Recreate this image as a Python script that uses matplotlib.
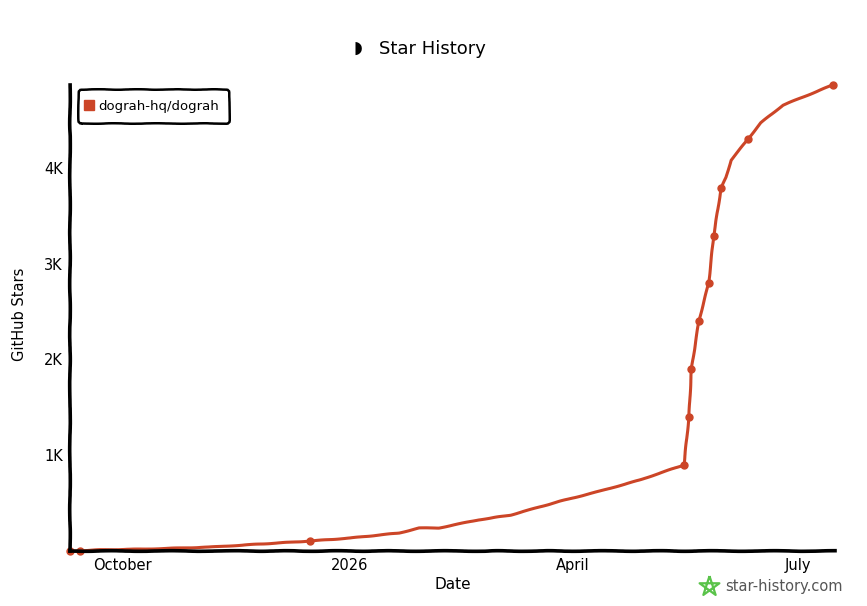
import pandas as pd
import matplotlib
matplotlib.use('Agg')
import matplotlib.pyplot as plt
from matplotlib.path import Path
from matplotlib.ticker import FuncFormatter

repo = 'dograh-hq/dograh'

dates = ['2025-09-10', '2025-09-14', '2025-09-22', '2025-10-10', '2025-11-05', '2025-12-16',
         '2026-01-01', '2026-01-21', '2026-01-29', '2026-02-06', '2026-02-22', '2026-03-07',
         '2026-03-27', '2026-04-12', '2026-04-28', '2026-05-11', '2026-05-16', '2026-05-18',
         '2026-05-19', '2026-05-20', '2026-05-22', '2026-05-26', '2026-05-28', '2026-05-31',
         '2026-06-02', '2026-06-04', '2026-06-11', '2026-06-16', '2026-06-25', '2026-07-07',
         '2026-07-15']
stars = [0, 3, 12, 20, 40, 104,
         135, 188, 240, 240, 325, 375,
         520, 625, 740, 855, 898, 1400,
         1900, 2065, 2400, 2800, 3290, 3790,
         3900, 4080, 4305, 4470, 4655, 4780,
         4865]
# only some of the points get a dot in the picture
marked = [0, 1, 5, 16, 17, 18, 20, 21, 22, 23, 26, 30]

y_ticks = [1000, 2000, 3000, 4000]
x_ticks = ['2025-10-01', '2026-01-01', '2026-04-01', '2026-07-01']
x_labels = ['October', '2026', 'April', 'July']

red = '#cc4527'
plt.rcParams['font.family'] = 'DejaVu Sans'

x = pd.to_datetime(dates)

fig = plt.figure(figsize=(8.67, 6.06), dpi=100)
ax = fig.add_axes([70 / 867, 55 / 606, 765 / 867, 466 / 606])

line, = ax.plot(x, stars, color=red, lw=2.2, clip_on=False, label=repo,
                marker='o', ms=5, markevery=marked, solid_capstyle='round')
line.set_sketch_params(0.2, 40, 2)

ax.set_xlim(pd.Timestamp('2025-09-10'), pd.Timestamp('2026-07-16'))
ax.set_ylim(0, 4865)

ax.set_yticks(y_ticks)
ax.yaxis.set_major_formatter(FuncFormatter(lambda v, p: '%dK' % (v / 1000)))
ax.set_xticks(pd.to_datetime(x_ticks))
ax.set_xticklabels(x_labels)
ax.tick_params(length=0, labelsize=10.5)
ax.tick_params(axis='y', pad=5)
ax.tick_params(axis='x', pad=5)

for side in ['top', 'right']:
    ax.spines[side].set_visible(False)
for side in ['left', 'bottom']:
    ax.spines[side].set_linewidth(2.6)
    ax.spines[side].set_sketch_params(0.3, 70, 3)

ax.set_xlabel('Date', fontsize=11, labelpad=3)
ax.set_ylabel('GitHub Stars', fontsize=10.5)
ax.yaxis.set_label_coords(-43 / 765, 0.508)

# legend
leg = ax.legend(loc='upper left', bbox_to_anchor=(8 / 765, 1 - 4 / 466), borderaxespad=0,
                fontsize=9.5, frameon=True, fancybox=True, framealpha=1,
                handlelength=0, handletextpad=0.7, borderpad=0.8)
leg.get_frame().set_edgecolor('black')
leg.get_frame().set_linewidth(1.8)
leg.get_frame().set_sketch_params(0.25, 60, 4)
leg.legend_handles[0].set_linestyle('none')
leg.legend_handles[0].set_marker('s')
leg.legend_handles[0].set_markersize(6.5)

# title with the little logo
fig.text(432 / 867, 1 - 49 / 606, 'Star History', fontsize=13, ha='center', va='center')
fig.text(358 / 867, 1 - 48 / 606, '\u25d7', fontsize=12, ha='center', va='center')

# watermark
fig.text(725 / 867, 1 - 586 / 606, 'star-history.com', fontsize=10.5, color='#555555',
         ha='left', va='center')
star_ax = fig.add_axes([0, 0, 1, 1], facecolor='none')
star_ax.set_xlim(0, 867)
star_ax.set_ylim(606, 0)
star_ax.axis('off')
pentagram = Path([(0, 1), (0.59, -0.81), (-0.95, 0.31), (0.95, 0.31), (-0.59, -0.81), (0, 1)],
                 closed=False)
star_ax.plot([709], [586], marker=pentagram, ms=15, mfc='none', mec='#5ac34a', mew=1.6, ls='none')

fig.savefig('out.png', dpi=100)
